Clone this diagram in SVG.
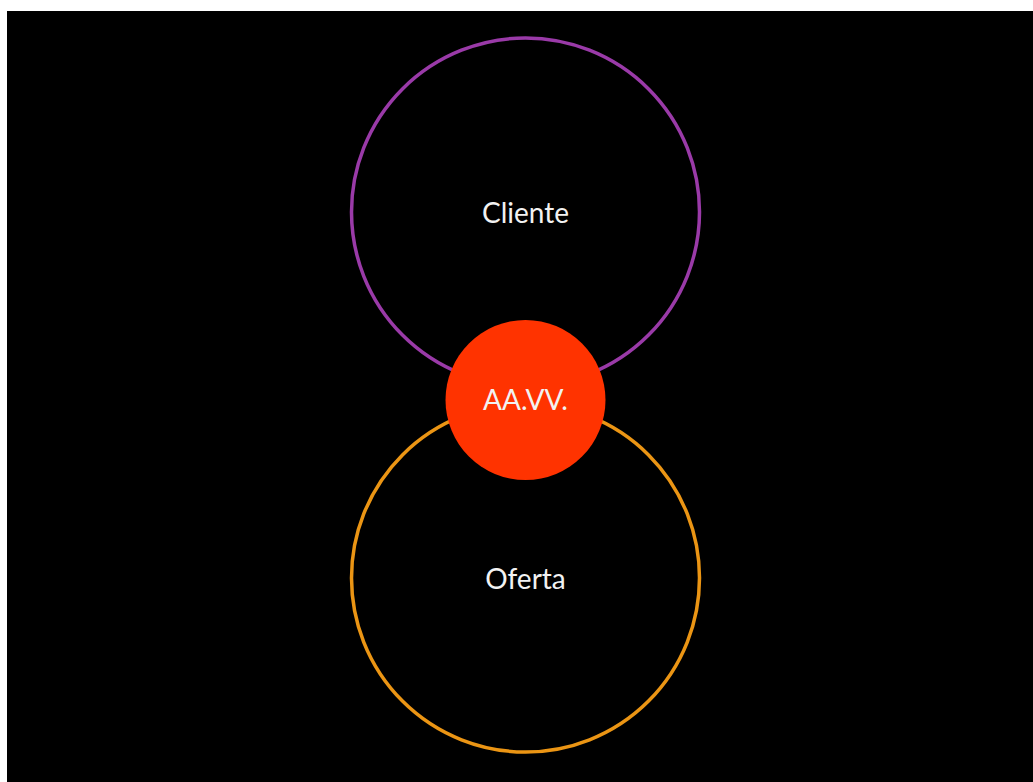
<svg xmlns="http://www.w3.org/2000/svg" width="1033" height="782" viewBox="0 0 1033 782">
<style>
.lbl{font-family:"Lato","Open Sans","Liberation Sans",sans-serif;font-size:28px;fill:#f2f2f2;text-anchor:middle;}
.ring{fill:none;stroke-width:3.5;}
</style>
<rect x="0" y="0" width="1033" height="782" fill="#ffffff"/>
<rect x="7" y="11" width="1026" height="771" fill="#000000"/>
<g id="cliente">
<circle class="ring" cx="525.5" cy="212" r="174" stroke="#9a3aa8"/>
<text class="lbl" x="525.5" y="223">Cliente</text>
</g>
<g id="oferta">
<circle class="ring" cx="525.5" cy="578" r="174" stroke="#eb9514"/>
<text class="lbl" x="525.5" y="589">Oferta</text>
</g>
<g id="aavv">
<circle cx="525.5" cy="400" r="80" fill="#ff3300"/>
<text class="lbl" x="525.5" y="410">AA.VV.</text>
</g>
<g id="connectors"/>
</svg>
